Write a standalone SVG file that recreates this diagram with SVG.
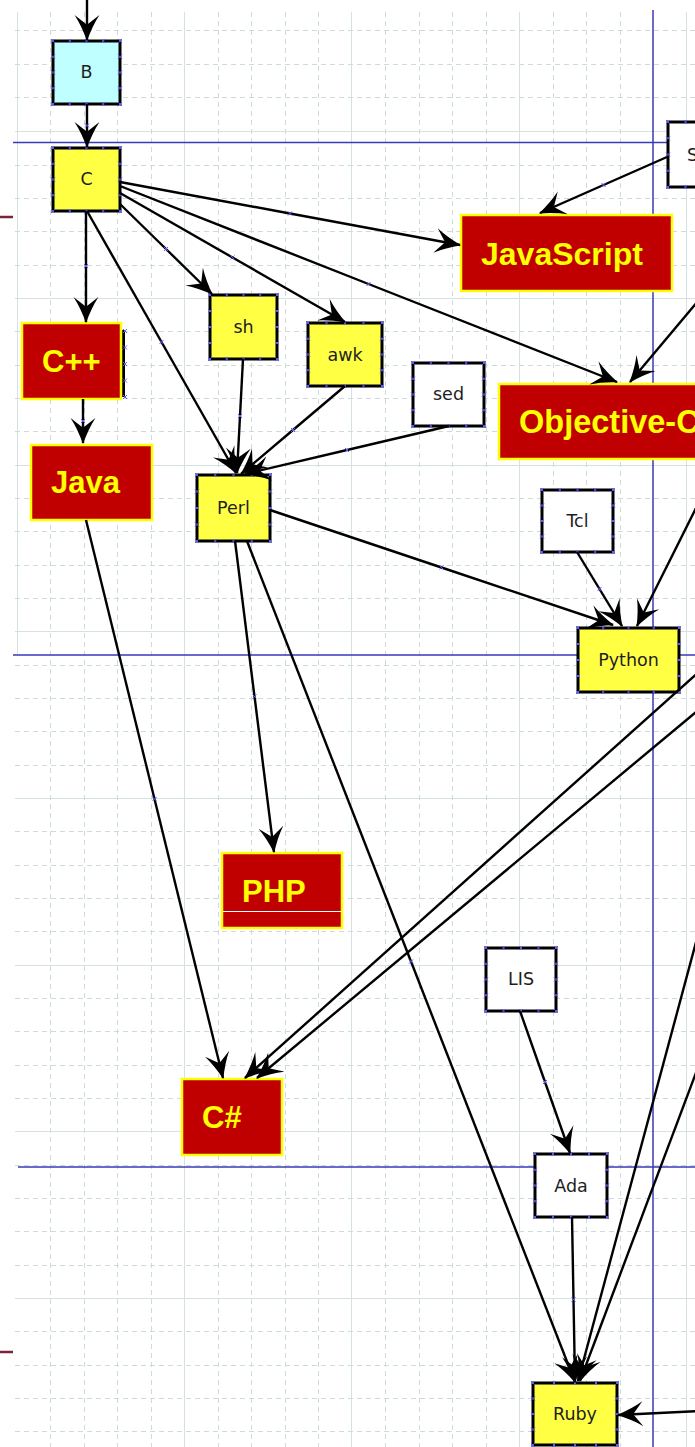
<svg xmlns="http://www.w3.org/2000/svg" width="695" height="1447" viewBox="0 0 695 1447">
<style>
.gs{fill:none;stroke:#d6e2e2;stroke-width:1}
.gd{fill:none;stroke:#cddbdb;stroke-width:1;stroke-dasharray:5,4}
.bl{fill:none;stroke:#3a3ab8;stroke-width:1.5}
.sm rect{stroke:#000;stroke-width:3}
.y{fill:#ffff44}
.w{fill:#fff}
.cy{fill:#bfffff}
.rd rect{fill:#c00000;stroke:#ffff00;stroke-width:2.5}
.t{font-family:"DejaVu Sans",Verdana,sans-serif;font-size:17.5px;fill:#1e1e1e;text-anchor:middle}
.rt{font-family:"Liberation Sans",Arial,sans-serif;font-weight:bold;font-size:31px;fill:#ffff00}
.pts{fill:none;stroke:none;marker-start:url(#bx);marker-mid:url(#bx);marker-end:url(#bx)}
.e{fill:none;stroke:#000;stroke-width:2.4;marker-mid:url(#bx);marker-end:url(#ah)}
</style>
<defs>
<marker id="ah" markerUnits="userSpaceOnUse" markerWidth="26" markerHeight="26" viewBox="0 0 24 24" refX="23" refY="12" orient="auto"><path d="M24,12 Q10,7 0,0.5 L9,12 L0,23.5 Q10,17 24,12 Z" fill="#000"/></marker>
<marker id="bx" markerUnits="userSpaceOnUse" markerWidth="6" markerHeight="6" viewBox="-3 -3 6 6" refX="0" refY="0" overflow="visible"><path d="M-2,-2L2,2M2,-2L-2,2" stroke="#5b5bf5" stroke-width="1" fill="none"/></marker>
</defs>
<rect width="695" height="1447" fill="#fff"/>
<g id="grid">
<path class="gs" d="M17.5,12V655M184.5,12V1447M351.5,12V1447M519.5,12V1447M686.5,12V1447M15,131.5H695M15,298.5H695M15,465.5H695M15,631.5H695M15,798.5H695M15,965.5H695M15,1131.5H695M15,1298.5H695"/>
<path class="gd" d="M50.5,12V1447M84.5,12V1447M117.5,12V1447M151.5,12V1447M218.5,12V1447M251.5,12V1447M285.5,12V1447M318.5,12V1447M385.5,12V1447M419.5,12V1447M452.5,12V1447M486.5,12V1447M553.5,12V1447M586.5,12V1447M620.5,12V1447M15,30.5H695M15,64.5H695M15,97.5H695M15,165.5H695M15,198.5H695M15,231.5H695M15,265.5H695M15,331.5H695M15,365.5H695M15,398.5H695M15,431.5H695M15,498.5H695M15,531.5H695M15,565.5H695M15,598.5H695M15,665.5H695M15,698.5H695M15,731.5H695M15,765.5H695M15,831.5H695M15,865.5H695M15,898.5H695M15,931.5H695M15,998.5H695M15,1031.5H695M15,1065.5H695M15,1098.5H695M15,1165.5H695M15,1198.5H695M15,1231.5H695M15,1265.5H695M15,1331.5H695M15,1365.5H695M15,1398.5H695M15,1431.5H695"/>
<path class="bl" d="M13,142.5H695M13,655H695M18,1167H695M653,10V1447"/>
<path d="M0,217H13M0,1352H13" stroke="#7b2338" stroke-width="2.5" fill="none"/>
</g>
<g id="nodes">
<g id="n-B" class="sm"><rect class="cy" x="53" y="41" width="67" height="63"/><text class="t" x="86.5" y="78">B</text><path class="pts" d="M53,41h16.75h16.75h16.75h16.75v15.75v15.75v15.75v15.75h-16.75h-16.75h-16.75h-16.75v-15.75v-15.75v-15.75"/></g>
<g id="n-C" class="sm"><rect class="y" x="53" y="148" width="67" height="63"/><text class="t" x="86.5" y="185">C</text><path class="pts" d="M53,148h16.75h16.75h16.75h16.75v15.75v15.75v15.75v15.75h-16.75h-16.75h-16.75h-16.75v-15.75v-15.75v-15.75"/></g>
<g id="n-S" class="sm"><rect class="w" x="668" y="122" width="70" height="65"/><text class="t" x="687" y="161" style="text-anchor:start">S</text><path class="pts" d="M668,122h17.5h17.5h17.5h17.5v16.25v16.25v16.25v16.25h-17.5h-17.5h-17.5h-17.5v-16.25v-16.25v-16.25"/></g>
<g id="n-JavaScript" class="rd"><rect x="461" y="215" width="211" height="76"/><text class="rt" x="481" y="265" style="font-size:32px">JavaScript</text></g>
<g id="n-Cpp" class="rd"><path d="M123.5,330V397" stroke="#000" stroke-width="3"/><path class="pts" d="M125,331v16.5v16.5v16.5v16.5"/><rect x="22" y="323" width="99" height="76"/><text class="rt" x="42" y="372">C++</text></g>
<g id="n-sh" class="sm"><rect class="y" x="210" y="295" width="67" height="64"/><text class="t" x="243.5" y="333">sh</text><path class="pts" d="M210,295h16.75h16.75h16.75h16.75v16v16v16v16h-16.75h-16.75h-16.75h-16.75v-16v-16v-16"/></g>
<g id="n-awk" class="sm"><rect class="y" x="308" y="323" width="74" height="63"/><text class="t" x="345" y="361">awk</text><path class="pts" d="M308,323h18.5h18.5h18.5h18.5v15.75v15.75v15.75v15.75h-18.5h-18.5h-18.5h-18.5v-15.75v-15.75v-15.75"/></g>
<g id="n-sed" class="sm"><rect class="w" x="413" y="363" width="71" height="63"/><text class="t" x="448.5" y="400">sed</text><path class="pts" d="M413,363h17.75h17.75h17.75h17.75v15.75v15.75v15.75v15.75h-17.75h-17.75h-17.75h-17.75v-15.75v-15.75v-15.75"/></g>
<g id="n-ObjectiveC" class="rd"><rect x="499" y="384" width="230" height="75"/><text class="rt" x="519" y="433" style="font-size:32.5px">Objective-C</text></g>
<g id="n-Java" class="rd"><rect x="31" y="445" width="121" height="75"/><text class="rt" x="51" y="493">Java</text></g>
<g id="n-Perl" class="sm"><rect class="y" x="197" y="475" width="73" height="66"/><text class="t" x="233.5" y="514">Perl</text><path class="pts" d="M197,475h18.25h18.25h18.25h18.25v16.5v16.5v16.5v16.5h-18.25h-18.25h-18.25h-18.25v-16.5v-16.5v-16.5"/></g>
<g id="n-Tcl" class="sm"><rect class="w" x="542" y="490" width="71" height="62"/><text class="t" x="577.5" y="527">Tcl</text><path class="pts" d="M542,490h17.75h17.75h17.75h17.75v15.5v15.5v15.5v15.5h-17.75h-17.75h-17.75h-17.75v-15.5v-15.5v-15.5"/></g>
<g id="n-Python" class="sm"><rect class="y" x="578" y="628" width="101" height="64"/><text class="t" x="628.5" y="666">Python</text><path class="pts" d="M578,628h25.25h25.25h25.25h25.25v16v16v16v16h-25.25h-25.25h-25.25h-25.25v-16v-16v-16"/></g>
<g id="n-PHP" class="rd"><rect x="222" y="853" width="120" height="75"/><text class="rt" x="242" y="902">PHP</text><path d="M223,911.5H341" stroke="#fff" stroke-width="1.2"/></g>
<g id="n-LIS" class="sm"><rect class="w" x="486" y="948" width="70" height="63"/><text class="t" x="521" y="985">LIS</text><path class="pts" d="M486,948h17.5h17.5h17.5h17.5v15.75v15.75v15.75v15.75h-17.5h-17.5h-17.5h-17.5v-15.75v-15.75v-15.75"/></g>
<g id="n-Csharp" class="rd"><rect x="182" y="1079" width="100" height="76"/><text class="rt" x="202" y="1128">C#</text></g>
<g id="n-Ada" class="sm"><rect class="w" x="535" y="1154" width="72" height="63"/><text class="t" x="571" y="1192">Ada</text><path class="pts" d="M535,1154h18h18h18h18v15.75v15.75v15.75v15.75h-18h-18h-18h-18v-15.75v-15.75v-15.75"/></g>
<g id="n-Ruby" class="sm"><rect class="y" x="533" y="1383" width="84" height="62"/><text class="t" x="575" y="1420">Ruby</text><path class="pts" d="M533,1383h21h21h21h21v15.5v15.5v15.5v15.5h-21h-21h-21h-21v-15.5v-15.5v-15.5"/></g>
</g>
<g id="connectors">
<path class="e" d="M87,0L87,40"/>
<path class="e" d="M87,104L87,125.5L87,147"/>
<path class="e" d="M86,211L86,266L86,322"/>
<path class="e" d="M83,399L83,421L83,443"/>
<path class="e" d="M87,211L161.5,342L236,473"/>
<path class="e" d="M120,204L166,249L212,294"/>
<path class="e" d="M120,193L232.5,257.5L345,322"/>
<path class="e" d="M120,186L368.5,284L617,382"/>
<path class="e" d="M120,182L290,213.5L460,245"/>
<path class="e" d="M667,157L603.5,185L540,213"/>
<path class="e" d="M243,359L240,416L237,473"/>
<path class="e" d="M345,386L293,430L241,474"/>
<path class="e" d="M449,426L347,450L245,474"/>
<path class="e" d="M270,510L441.5,567.5L613,625"/>
<path class="e" d="M577,552L599.5,589L622,626"/>
<path class="e" d="M720,275L630,382"/>
<path class="e" d="M720,460L637,626"/>
<path class="e" d="M235,541L254.5,696.5L274,852"/>
<path class="e" d="M247,541L411,961.5L575,1382"/>
<path class="e" d="M86,520L154.5,799L223,1078"/>
<path class="e" d="M720,653L245,1078"/>
<path class="e" d="M720,692L257,1078"/>
<path class="e" d="M520,1011L545,1082L570,1153"/>
<path class="e" d="M572,1217L573.5,1299.5L575,1382"/>
<path class="e" d="M720,853L578,1381"/>
<path class="e" d="M720,1009L580,1381"/>
<path class="e" d="M720,1410L618,1415"/>
</g>
</svg>
